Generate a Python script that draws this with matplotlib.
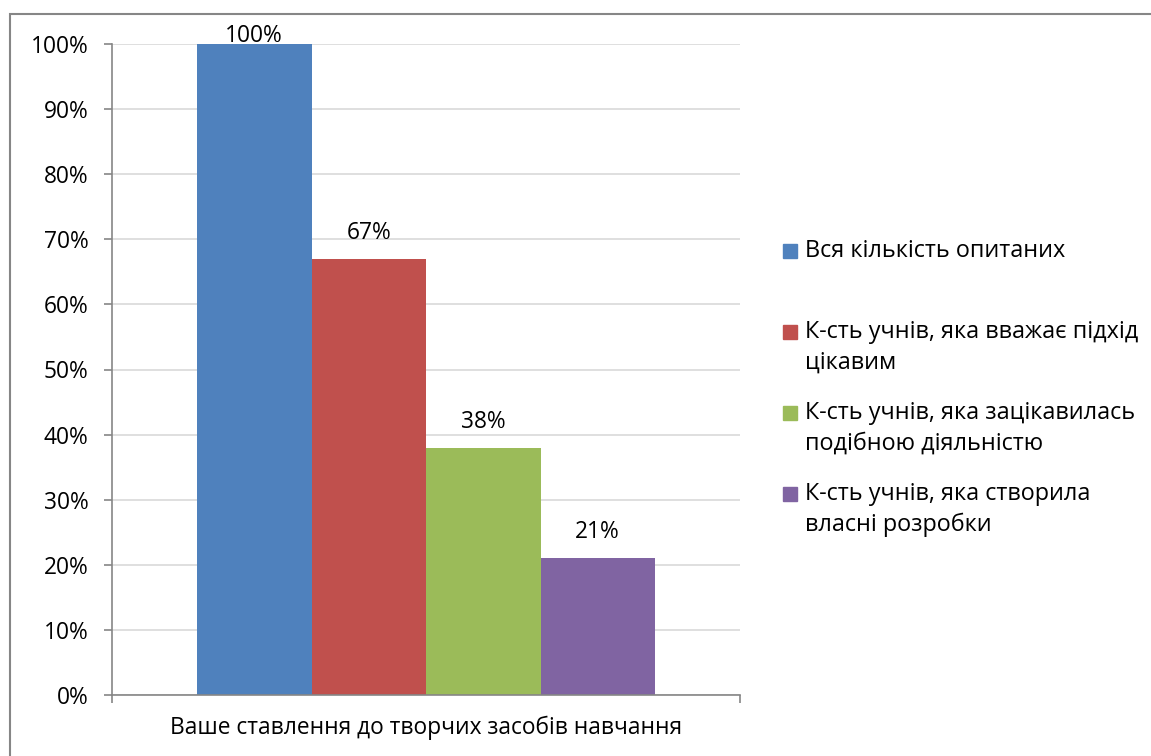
import matplotlib.pyplot as plt
from matplotlib.patches import Rectangle

# data
category = "Ваше ставлення до творчих засобів навчання"
series = ["Вся кількість опитаних",
          "К-сть учнів, яка вважає підхід\nцікавим",
          "К-сть учнів, яка зацікавилась\nподібною діяльністю",
          "К-сть учнів, яка створила\nвласні розробки"]
values = [100, 67, 38, 21]
colors = ["#4f81bd", "#c0504d", "#9bbb59", "#8064a2"]

plt.rcParams['font.family'] = ['Open Sans', 'DejaVu Sans']
FS = 16.4
W, H = 1151, 756
fig = plt.figure(figsize=(W / 100, H / 100), dpi=100)

# outer chart border (only left/top visible)
fig.patches.append(Rectangle((10 / W, -0.1), 1.2, 1 - 14 / H + 0.1,
                             transform=fig.transFigure, fill=False,
                             edgecolor="#868686", lw=1.5))

ax = fig.add_axes([112 / W, 1 - 695 / H, (740 - 112) / W, (695 - 44) / H])

bw = 114.5 / 628
for i, (v, c) in enumerate(zip(values, colors)):
    x = (i - 1.5) * bw
    ax.bar(x, v, width=bw, color=c)
    ypos = min(v + 4, 101.3)
    ax.text(x, ypos, f"{v}%", ha="center", va="center", fontsize=FS)

ax.set_xlim(-0.5, 0.5)
ax.set_ylim(0, 100)
ax.set_yticks(range(0, 101, 10))
ax.set_yticklabels([f"{t}%" for t in range(0, 101, 10)], fontsize=FS)
ax.set_xticks([-0.5, 0.5])
ax.set_xticklabels(["", ""])
ax.tick_params(axis="y", length=6, width=1.2, color="#868686", pad=11)
ax.tick_params(axis="x", length=6, width=1.2, color="#868686")
ax.text(0.5, -0.05, category, transform=ax.transAxes, ha="center", va="center",
        fontsize=FS)

ax.yaxis.grid(True, color="#d9d9d9", lw=1.2)
ax.set_axisbelow(True)
for side in ["top", "right"]:
    ax.spines[side].set_visible(False)
for side in ["left", "bottom"]:
    ax.spines[side].set_color("#868686")
    ax.spines[side].set_linewidth(1.2)

# legend, laid out like Excel: evenly spaced slots, marker at first line
slot, line_h = 81, 31
for i, (s, c) in enumerate(zip(series, colors)):
    y0 = 251 + slot * i
    fig.patches.append(Rectangle((783 / W, 1 - (y0 + 7) / H), 14 / W, 14 / H,
                                 transform=fig.transFigure, color=c))
    for j, line in enumerate(s.split("\n")):
        fig.text(805 / W, 1 - (y0 + line_h * j) / H, line, ha="left",
                 va="center", fontsize=16.8)

fig.savefig("out.png", dpi=100)
